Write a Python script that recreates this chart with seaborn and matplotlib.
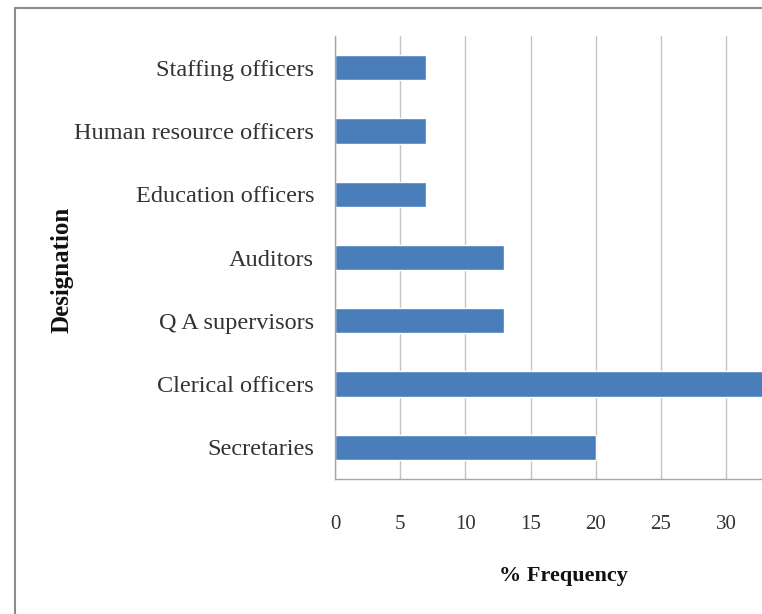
import matplotlib
matplotlib.use("Agg")
import matplotlib.pyplot as plt
from matplotlib.lines import Line2D
import seaborn as sns
import pandas as pd

# data (top to bottom)
designations = ["Staffing officers", "Human resource officers", "Education officers",
                "Auditors", "Q A supervisors", "Clerical officers", "Secretaries"]
frequency = [7, 7, 7, 13, 13, 33, 20]
x_ticks = [0, 5, 10, 15, 20, 25, 30]

df = pd.DataFrame({"Designation": designations, "% Frequency": frequency})

sns.set_style("white")
plt.rcParams['font.family'] = ['Liberation Serif', 'DejaVu Serif']

W, H = 762, 614
fig = plt.figure(figsize=(W / 100, H / 100), dpi=100)
left, right, top, bottom = 335, 762, 36, 479
ax = fig.add_axes([left / W, 1 - bottom / H, (right - left) / W, (bottom - top) / H])

sns.barplot(data=df, x="% Frequency", y="Designation", orient="h",
            color="#4a7ebb", width=0.4, saturation=1, ax=ax)

px_per_unit = (726 - 335) / 30
ax.set_xlim(0, (right - left) / px_per_unit)
ax.set_xticks(x_ticks)
ax.set_xticklabels([str(t) for t in x_ticks], fontsize=15, color="#333333")
ax.tick_params(axis="x", length=7, width=1, color="#a6a6a6", pad=19, direction="out")
ax.tick_params(axis="y", length=0, pad=15, labelsize=17.5, labelcolor="#333333")
ax.grid(axis="x", color="#c4c4c4", linewidth=1)
ax.set_axisbelow(True)

for s in ["top", "right"]:
    ax.spines[s].set_visible(False)
for s in ["left", "bottom"]:
    ax.spines[s].set_color("#a6a6a6")
    ax.spines[s].set_linewidth(1)

ax.set_xlabel("% Frequency", fontsize=16, fontweight="bold", color="#111111")
ax.xaxis.set_label_coords((563 - left) / (right - left), (bottom - 576) / (bottom - top))
ax.set_ylabel("Designation", fontsize=18, fontweight="bold", color="#111111")
ax.yaxis.set_label_coords((62 - left) / (right - left), (bottom - 270) / (bottom - top))
ax.xaxis.label.set_verticalalignment("center")
ax.yaxis.label.set_verticalalignment("center")

# outer chart frame (cut off on the right and bottom)
fx, fy = 15 / W, 1 - 8 / H
fig.add_artist(Line2D([fx, 1.0], [fy, fy], color="#8c8c8c", linewidth=1.5))
fig.add_artist(Line2D([fx, fx], [0.0, fy], color="#8c8c8c", linewidth=1.5))

fig.savefig("out.png", dpi=100)
